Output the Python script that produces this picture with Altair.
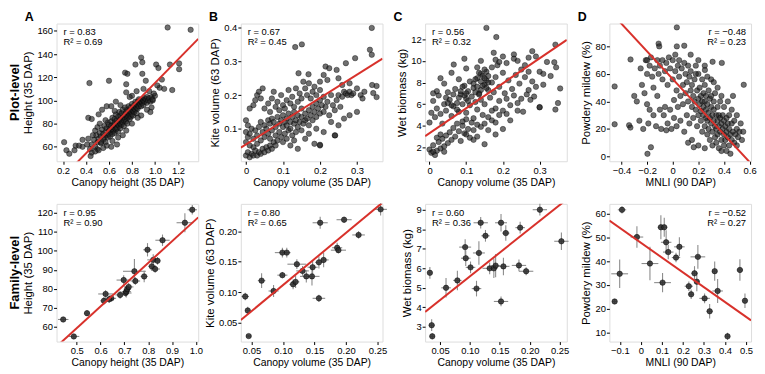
import altair as alt
import pandas as pd

FONT = "Liberation Sans"
RED = "#d8312b"
W, H = 143, 139

# ---------------- Plot-level data (x, y) ----------------
A_PLOT = [
(0.45,62),(0.47,66),(0.48,60),(0.49,70),(0.50,64),(0.50,58),(0.51,67),(0.52,72),(0.53,63),(0.53,69),
(0.54,75),(0.55,66),(0.55,71),(0.56,68),(0.56,78),(0.57,73),(0.57,64),(0.58,70),(0.58,76),(0.59,81),
(0.59,68),(0.60,74),(0.60,71),(0.60,79),(0.61,76),(0.61,69),(0.62,73),(0.62,82),(0.62,78),(0.63,75),
(0.63,71),(0.63,85),(0.64,79),(0.64,74),(0.64,77),(0.65,81),(0.65,72),(0.65,84),(0.66,78),(0.66,75),
(0.66,88),(0.67,80),(0.67,83),(0.67,76),(0.68,79),(0.68,86),(0.68,73),(0.69,82),(0.69,78),(0.69,90),
(0.70,84),(0.70,80),(0.70,87),(0.70,76),(0.71,83),(0.71,89),(0.71,79),(0.72,85),(0.72,81),(0.72,92),
(0.73,86),(0.73,83),(0.73,78),(0.74,88),(0.74,84),(0.74,94),(0.75,87),(0.75,82),(0.75,90),(0.76,85),
(0.76,92),(0.76,80),(0.77,89),(0.77,86),(0.77,95),(0.78,88),(0.78,84),(0.78,91),(0.79,90),(0.79,94),
(0.79,86),(0.80,92),(0.80,88),(0.80,97),(0.81,91),(0.81,94),(0.81,87),(0.82,93),(0.82,96),(0.82,90),
(0.83,95),(0.83,92),(0.83,99),(0.84,94),(0.84,97),(0.84,89),(0.85,96),(0.85,99),(0.85,93),(0.86,98),
(0.86,95),(0.86,101),(0.87,97),(0.87,100),(0.88,99),(0.88,95),(0.89,101),(0.89,98),(0.90,100),(0.90,96),
(0.91,102),(0.91,99),(0.92,101),(0.93,103),(0.93,98),(0.94,100),(0.95,102),(0.96,99),(0.97,103),(0.98,100),
(0.21,64),(0.23,57),(0.255,54),(0.30,57),(0.31,61),(0.34,61),(0.37,66),(0.37,60),(0.41,62),(0.435,58),
(0.44,52),(0.42,67),(0.46,70),(0.45,55),(0.48,74),(0.50,77),(0.52,80),(0.53,64),(0.42,85),(0.45,84),
(0.51,88),(0.54,92),(0.58,95),(0.62,95),(0.43,115),(0.60,117),(0.75,114),(0.74,124),(0.76,123),(0.75,107),
(0.83,131),(0.88,137),(0.89,133),(0.89,123),(0.92,117),(1.01,131),(1.03,128),(1.06,118),(1.08,110),(1.04,111),
(1.13,131),(1.21,132),(1.21,127),(1.15,109),(1.11,163),(1.31,161),(0.98,101),(1.00,104),(0.95,108),(0.97,94),
(0.93,92),(0.90,110),(0.84,108),(0.80,104),(0.78,103),(0.70,96),(0.65,91),(0.88,87),(0.85,85),(0.80,80),
(0.75,74),(0.72,70),(0.68,68),(0.63,65),(0.58,61),(0.55,59),(0.51,57),(1.02,113),(0.99,106),(0.96,90),
(0.66,99),(0.57,83),(0.67,62),(0.62,60),(0.48,56)]

B_PLOT = [
(0.00,0.02),(0.01,0.015),(0.005,0.03),(0.015,0.025),(0.02,0.02),(0.025,0.035),(0.03,0.02),(0.035,0.03),(0.04,0.025),(0.02,0.045),
(0.01,0.05),(0.045,0.04),(0.05,0.03),(0.055,0.045),(0.06,0.035),(0.065,0.05),(0.03,0.055),(0.07,0.04),(0.075,0.06),(0.08,0.05),
(0.0,0.06),(0.005,0.075),(0.01,0.085),(0.0,0.09),(0.02,0.07),(0.03,0.08),(0.015,0.1),(0.005,0.11),(0.0,0.125),(0.04,0.065),
(0.05,0.075),(0.025,0.095),(0.035,0.105),(0.045,0.09),(0.06,0.085),(0.055,0.1),(0.065,0.07),(0.07,0.095),(0.08,0.08),(0.085,0.065),
(0.09,0.09),(0.095,0.075),(0.1,0.06),(0.105,0.085),(0.11,0.07),(0.12,0.05),(0.125,0.08),(0.13,0.065),(0.14,0.04),(0.135,0.09),
(0.115,0.095),(0.04,0.12),(0.05,0.11),(0.06,0.125),(0.065,0.115),(0.07,0.13),(0.075,0.12),(0.08,0.105),(0.085,0.135),(0.09,0.115),
(0.095,0.125),(0.1,0.105),(0.1,0.14),(0.105,0.12),(0.11,0.13),(0.11,0.11),(0.115,0.145),(0.12,0.12),(0.12,0.1),(0.125,0.135),
(0.13,0.115),(0.13,0.15),(0.135,0.125),(0.14,0.14),(0.14,0.105),(0.145,0.12),(0.15,0.135),(0.15,0.16),(0.155,0.115),(0.16,0.145),
(0.16,0.125),(0.165,0.13),(0.17,0.155),(0.17,0.11),(0.175,0.14),(0.18,0.165),(0.18,0.125),(0.185,0.15),(0.19,0.175),(0.19,0.135),
(0.195,0.16),(0.2,0.145),(0.2,0.185),(0.205,0.17),(0.21,0.15),(0.21,0.195),(0.215,0.165),(0.22,0.18),(0.225,0.14),(0.23,0.2),
(0.235,0.17),(0.24,0.155),(0.245,0.185),(0.25,0.2),(0.255,0.165),(0.26,0.195),(0.265,0.21),(0.27,0.205),(0.275,0.2),(0.28,0.21),
(0.285,0.2),(0.29,0.205),(0.265,0.13),(0.28,0.14),(0.3,0.15),(0.23,0.12),(0.25,0.11),(0.21,0.09),(0.19,0.1),(0.17,0.085),
(0.16,0.07),(0.185,0.055),(0.2,0.05),(0.24,0.08),(0.15,0.095),(0.02,0.17),(0.025,0.185),(0.03,0.2),(0.035,0.21),(0.04,0.19),
(0.01,0.16),(0.05,0.16),(0.06,0.175),(0.065,0.15),(0.07,0.19),(0.08,0.165),(0.085,0.18),(0.09,0.155),(0.095,0.2),(0.1,0.17),
(0.105,0.16),(0.11,0.185),(0.115,0.215),(0.12,0.175),(0.125,0.195),(0.13,0.165),(0.135,0.22),(0.14,0.18),(0.145,0.205),(0.15,0.19),
(0.155,0.24),(0.16,0.22),(0.165,0.2),(0.17,0.235),(0.175,0.19),(0.18,0.21),(0.185,0.225),(0.19,0.2),(0.2,0.24),(0.21,0.26),
(0.22,0.245),(0.215,0.285),(0.225,0.28),(0.245,0.275),(0.27,0.295),(0.295,0.31),(0.34,0.4),(0.335,0.335),(0.34,0.32),(0.133,0.343),
(0.151,0.351),(0.142,0.265),(0.169,0.262),(0.2,0.052),(0.241,0.08),(0.341,0.23),(0.353,0.227),(0.344,0.206),(0.353,0.194),(0.31,0.2),
(0.32,0.21),(0.315,0.19),(0.3,0.22),(0.28,0.235),(0.25,0.25),(0.26,0.23),(0.2,0.215),(0.075,0.21),(0.045,0.22)]

C_PLOT = [
(0.00,1.8),(0.005,1.5),(0.01,2.2),(0.015,1.3),(0.02,1.7),(0.025,2.5),(0.03,1.9),(0.035,2.8),(0.04,2.1),(0.045,3.1),
(0.02,2.9),(0.01,1.6),(0.05,2.4),(0.055,3.4),(0.06,2.7),(0.065,3.8),(0.03,3.2),(0.04,1.6),(0.07,3.0),(0.075,4.2),
(0.08,3.5),(0.085,2.6),(0.09,4.0),(0.095,3.3),(0.1,4.6),(0.105,3.7),(0.11,2.9),(0.115,4.3),(0.12,3.6),(0.13,4.1),
(0.14,3.9),(0.15,2.3),(0.16,4.8),(0.17,4.5),(0.0,4.3),(0.005,5.2),(0.01,6.3),(0.015,4.8),(0.02,5.6),(0.025,6.8),
(0.03,5.1),(0.035,4.2),(0.04,6.0),(0.045,5.4),(0.05,7.1),(0.055,6.4),(0.06,4.9),(0.065,5.8),(0.07,7.4),(0.075,6.1),
(0.08,5.3),(0.085,6.9),(0.09,4.4),(0.095,7.7),(0.1,6.5),(0.1,5.2),(0.105,7.2),(0.11,5.9),(0.11,8.1),(0.115,6.7),
(0.12,4.7),(0.12,7.5),(0.125,6.2),(0.13,8.4),(0.13,5.5),(0.135,7.0),(0.14,6.4),(0.14,8.8),(0.145,5.0),(0.15,7.8),
(0.15,6.0),(0.155,9.0),(0.155,8.2),(0.16,7.3),(0.16,8.6),(0.165,6.6),(0.17,8.0),(0.17,9.4),(0.175,7.1),(0.18,8.5),
(0.18,5.6),(0.185,9.6),(0.19,7.6),(0.19,6.3),(0.2,8.9),(0.2,5.4),(0.205,7.0),(0.21,9.8),(0.21,6.5),(0.215,8.2),
(0.22,5.9),(0.225,7.4),(0.23,10.6),(0.23,6.8),(0.235,8.7),(0.24,6.1),(0.245,7.9),(0.25,9.2),(0.25,6.5),(0.255,5.3),
(0.26,8.5),(0.265,6.9),(0.27,10.3),(0.27,7.3),(0.275,6.4),(0.28,8.1),(0.285,6.7),(0.29,7.6),(0.3,5.7),(0.3,9.0),
(0.31,7.8),(0.12,7.9),(0.125,8.3),(0.13,7.6),(0.135,8.9),(0.14,7.3),(0.14,8.1),(0.145,8.6),(0.145,7.7),(0.15,8.4),
(0.15,9.2),(0.155,7.5),(0.16,8.0),(0.13,9.4),(0.135,6.9),(0.125,7.1),(0.08,6.6),(0.085,7.2),(0.09,6.0),(0.095,6.8),
(0.1,7.0),(0.105,6.3),(0.09,7.6),(0.075,5.5),(0.06,5.9),(0.05,6.1),(0.045,6.6),(0.065,6.9),(0.15,4.2),(0.16,3.6),
(0.18,4.3),(0.2,3.7),(0.19,5.0),(0.17,5.4),(0.22,4.5),(0.21,5.1),(0.24,5.4),(0.18,3.2),(0.13,3.0),(0.12,2.7),
(0.1,3.2),(0.155,13.05),(0.182,12.2),(0.343,11.5),(0.34,9.87),(0.345,9.4),(0.356,7.45),(0.35,6.1),(0.343,5.5),(0.3,5.73),
(0.066,9.66),(0.095,10.2),(0.175,10.75),(0.28,10.9),(0.23,10.2),(0.2,10.4),(0.19,9.9),(0.26,9.6),(0.24,10.0),(0.18,10.1),
(0.14,10.0),(0.1,9.3),(0.06,8.9),(0.08,8.3),(0.04,7.9),(0.03,8.4),(0.02,7.2),(0.01,7.0),(0.32,9.9),(0.33,8.6),
(0.31,8.8),(0.29,10.4),(0.27,9.0)]

D_PLOT = [
(0.032,93.8),(-0.453,50.9),(-0.453,23.4),(-0.329,70.5),(-0.34,22.7),(-0.33,21.0),(-0.197,1.9),(-0.17,6.7),(-0.11,82),(-0.105,80),
(0.032,80),(0.09,80.5),(0.164,6.7),(0.383,68),(0.311,68.8),(0.554,52.1),(0.251,62.8),(-0.3,44),(-0.28,40),(-0.25,64),
(-0.24,52),(-0.22,46),(-0.21,70),(-0.2,60),(-0.2,38),(-0.19,24),(-0.18,66),(-0.17,72),(-0.16,58),(-0.15,50),
(-0.15,30),(-0.14,64),(-0.13,22),(-0.12,70),(-0.12,44),(-0.11,60),(-0.1,66),(-0.1,34),(-0.09,20),(-0.08,56),
(-0.08,70),(-0.07,30),(-0.06,62),(-0.05,68),(-0.05,19),(-0.04,52),(-0.04,24),(-0.03,72),(-0.02,64),(-0.02,34),
(-0.01,20),(0.0,56),(0.0,70),(0.01,41),(0.01,28),(0.02,62),(0.02,74),(0.03,22),(0.03,48),(0.04,66),
(0.04,36),(0.05,58),(0.05,70),(0.06,44),(0.06,26),(0.07,64),(0.08,52),(0.08,38),(0.09,68),(0.09,18),
(0.1,60),(0.1,46),(0.11,30),(0.11,54),(0.12,66),(0.12,40),(0.13,24),(0.13,58),(0.14,48),(0.14,62),
(0.15,36),(0.15,52),(0.16,44),(0.16,28),(0.17,56),(0.17,40),(0.18,66),(0.18,34),(0.19,48),(0.19,22),
(0.2,42),(0.2,60),(0.2,30),(0.21,38),(0.21,50),(0.22,26),(0.22,44),(0.22,33),(0.23,56),(0.23,40),
(0.23,18),(0.24,30),(0.24,46),(0.24,36),(0.25,22),(0.25,40),(0.25,52),(0.26,28),(0.26,34),(0.26,44),
(0.27,16),(0.27,38),(0.27,26),(0.28,48),(0.28,32),(0.28,20),(0.29,42),(0.29,28),(0.29,12),(0.3,36),
(0.3,24),(0.3,44),(0.31,30),(0.31,18),(0.31,8),(0.32,40),(0.32,26),(0.32,34),(0.33,22),(0.33,14),
(0.33,46),(0.34,30),(0.34,20),(0.34,10),(0.35,26),(0.35,36),(0.35,16),(0.36,22),(0.36,6),(0.36,30),
(0.37,18),(0.37,28),(0.37,40),(0.38,24),(0.38,12),(0.38,4),(0.39,20),(0.39,30),(0.4,16),(0.4,26),
(0.4,8),(0.41,22),(0.41,12),(0.42,28),(0.42,18),(0.42,4),(0.43,24),(0.43,14),(0.44,20),(0.44,30),
(0.44,8),(0.45,16),(0.45,2),(0.46,24),(0.46,12),(0.47,18),(0.48,10),(0.48,26),(0.49,16),(0.5,20),
(0.5,8),(0.51,14),(0.52,18),(0.53,24),(0.54,12),(0.55,18),(0.12,10),(0.15,12),(0.2,8),(0.25,6),
(0.18,60),(0.27,58),(0.3,56),(0.32,54),(0.35,50),(0.38,44),(0.4,36),(0.43,40),(0.46,34),(0.5,30),
(0.47,44),(0.2,70),(0.25,66),(0.14,74),(-0.2,70),(-0.18,34),(-0.26,26),(-0.23,20),(-0.06,36)]

# ---------------- Family-level data (x, y, x error, y error) ----------------
A_FAM = [
(0.443,63.9,0.022,1.0),(0.4875,55.0,0.023,1.0),(0.543,67.2,0.012,1.5),(0.614,73.7,0.015,2.0),
(0.621,77.3,0.031,2.0),(0.645,75.0,0.020,1.5),(0.682,76.8,0.020,2.0),(0.697,84.6,0.030,2.5),
(0.705,77.8,0.025,2.0),(0.708,78.5,0.020,3.0),(0.712,79.8,0.015,2.0),(0.718,81.0,0.020,2.0),
(0.742,89.2,0.048,6.4),(0.746,84.1,0.020,2.0),(0.783,86.5,0.015,3.0),(0.797,100.5,0.018,3.5),
(0.815,91.8,0.015,2.5),(0.821,95.2,0.025,3.0),(0.829,90.4,0.020,2.0),(0.839,94.7,0.012,2.0),
(0.860,105.5,0.030,3.0),(0.954,114.7,0.035,5.0),(0.985,121.5,0.020,2.5),(0.636,74.5,0.020,2.0)]

B_FAM = [
(0.0455,0.028,0.004,0.002),(0.040,0.093,0.006,0.006),(0.044,0.070,0.004,0.006),(0.066,0.119,0.006,0.012),
(0.085,0.102,0.008,0.010),(0.099,0.165,0.012,0.008),(0.106,0.165,0.006,0.008),(0.099,0.128,0.008,0.005),
(0.116,0.113,0.006,0.008),(0.120,0.117,0.006,0.010),(0.122,0.146,0.015,0.008),(0.131,0.135,0.010,0.008),
(0.137,0.126,0.010,0.010),(0.146,0.126,0.012,0.015),(0.147,0.141,0.008,0.012),(0.157,0.149,0.006,0.010),
(0.1645,0.153,0.008,0.012),(0.159,0.214,0.012,0.010),(0.157,0.090,0.010,0.006),(0.197,0.219,0.012,0.005),
(0.186,0.173,0.008,0.008),(0.188,0.169,0.012,0.005),(0.220,0.194,0.010,0.006),(0.255,0.236,0.010,0.010)]

C_FAM = [
(0.037,2.50,0.004,0.15),(0.036,3.07,0.005,0.30),(0.033,5.76,0.004,0.30),(0.060,4.99,0.008,0.50),
(0.079,5.37,0.007,0.50),(0.092,7.08,0.010,0.40),(0.093,6.51,0.008,0.40),(0.101,6.04,0.008,0.30),
(0.111,4.95,0.008,0.40),(0.115,6.78,0.010,0.60),(0.118,8.33,0.012,0.30),(0.126,7.66,0.007,0.30),
(0.133,5.99,0.012,0.30),(0.140,5.99,0.006,0.50),(0.143,6.13,0.008,0.60),(0.152,8.33,0.010,0.45),
(0.152,4.29,0.012,0.25),(0.156,6.09,0.010,0.45),(0.160,7.80,0.006,0.40),(0.184,8.08,0.008,0.30),
(0.182,6.14,0.012,0.30),(0.194,5.84,0.012,0.20),(0.217,9.00,0.012,0.30),(0.253,7.38,0.012,0.45)]

D_FAM = [
(-0.090,61.5,0.020,1.5),(-0.125,23.1,0.012,1.0),(-0.101,34.7,0.040,6.0),(-0.019,50.1,0.030,4.5),
(0.043,39.0,0.040,7.0),(0.103,31.0,0.040,4.0),(0.095,54.2,0.015,5.0),(0.111,54.2,0.015,4.0),
(0.120,47.9,0.025,5.0),(0.130,43.8,0.025,3.0),(0.167,41.5,0.020,2.0),(0.183,46.0,0.025,4.0),
(0.228,29.5,0.020,2.0),(0.239,26.1,0.012,2.0),(0.255,34.9,0.015,3.0),(0.266,31.4,0.012,4.0),
(0.271,41.8,0.035,5.0),(0.303,24.4,0.025,2.0),(0.327,19.0,0.015,3.0),(0.351,35.8,0.012,4.0),
(0.365,27.5,0.025,5.0),(0.412,8.5,0.010,1.5),(0.471,36.3,0.015,4.5),(0.495,23.4,0.012,3.0)]

# fitted lines shown in the figure: (intercept, slope)
FIT_PLOT = {"A": (13.8, 101.3), "B": (0.0533, 0.692), "C": (3.32, 23.05), "D": (56.25, -100.6)}
FIT_FAM = {"A": (2.37, 114.0), "B": (0.026, 0.857), "C": (3.14, 24.39), "D": (47.7, -62.1)}

# ---------------- Axis settings per panel ----------------
TITLES = {
    "A": ("Canopy height (35 DAP)", "Height (35 DAP)"),
    "B": ("Canopy volume (35 DAP)", "Kite volume (63 DAP)"),
    "C": ("Canopy volume (35 DAP)", "Wet biomass (kg)"),
    "D": ("MNLI (90 DAP)", "Powdery mildew (%)"),
}
STATS_PLOT = {"A": ("r = 0.83", "0.69"), "B": ("r = 0.67", "0.45"),
              "C": ("r = 0.56", "0.32"), "D": ("r = \u22120.48", "0.23")}
STATS_FAM = {"A": ("r = 0.95", "0.90"), "B": ("r = 0.80", "0.65"),
             "C": ("r = 0.60", "0.36"), "D": ("r = \u22120.52", "0.27")}

X_PLOT = {
    "A": ([0.144, 1.376], [0.2, 0.4, 0.6, 0.8, 1.0, 1.2], ".1f"),
    "B": ([-0.014, 0.369], [0, 0.1, 0.2, 0.3], "~g"),
    "C": ([-0.012, 0.374], [0, 0.1, 0.2, 0.3], "~g"),
    "D": ([-0.494, 0.611], [-0.4, -0.2, 0, 0.2, 0.4, 0.6], "~g"),
}
Y_PLOT = {
    "A": ([47.5, 166.4], [60, 80, 100, 120, 140, 160], "d"),
    "B": ([0.003, 0.413], [0.1, 0.2, 0.3, 0.4], ".1f"),
    "C": ([0.72, 13.45], [2, 4, 6, 8, 10, 12], "d"),
    "D": ([-3.5, 96.6], [0, 20, 40, 60, 80], "d"),
}
X_FAM = {
    "A": ([0.415, 1.01], [0.5, 0.6, 0.7, 0.8, 0.9, 1.0], ".1f"),
    "B": ([0.033, 0.258], [0.05, 0.10, 0.15, 0.20, 0.25], ".2f"),
    "C": ([0.025, 0.262], [0.05, 0.10, 0.15, 0.20, 0.25], ".2f"),
    "D": ([-0.15, 0.524], [-0.1, 0, 0.1, 0.2, 0.3, 0.4, 0.5], "~g"),
}
Y_FAM = {
    "A": ([52.3, 124.6], [60, 70, 80, 90, 100, 110, 120], "d"),
    "B": ([0.019, 0.245], [0.05, 0.10, 0.15, 0.20], ".2f"),
    "C": ([2.23, 9.3], [3, 4, 5, 6, 7, 8, 9], "d"),
    "D": ([6.3, 64.0], [10, 20, 30, 40, 50, 60], "d"),
}


def make_axis(values, fmt, title, title_size):
    return alt.Axis(values=values, format=fmt, title=title, grid=False, domain=False,
                    ticks=True, tickSize=3, tickColor="black", tickWidth=1,
                    labelColor="black", labelFontSize=9.5, labelFont=FONT, labelPadding=1,
                    titleFont=FONT, titleFontSize=title_size, titleFontWeight="normal",
                    titleColor="black", titlePadding=3, labelAngle=0)


def text_layer(text, x, y, size, bold=False, align="left", angle=None, baseline="alphabetic"):
    kw = dict(fontSize=size, font=FONT, fontWeight="bold" if bold else "normal",
              align=align, baseline=baseline, color="black")
    if angle is not None:
        kw["angle"] = angle
    return alt.Chart(pd.DataFrame({"t": [text]})).mark_text(**kw).encode(
        text="t:N", x=alt.value(x), y=alt.value(y))


def panel(key, rows, xspec, yspec, stats, fit, family=False, letter=None, rowlabel=None):
    xdom, xticks, xfmt = xspec
    ydom, yticks, yfmt = yspec
    xtitle, ytitle = TITLES[key]
    if family:
        df = pd.DataFrame(rows, columns=["x", "y", "xe", "ye"])
    else:
        df = pd.DataFrame(rows, columns=["x", "y"])
    xs = alt.Scale(domain=xdom, nice=False, zero=False)
    ys = alt.Scale(domain=ydom, nice=False, zero=False)
    xa = make_axis(xticks, xfmt, xtitle, 10.5)
    ya = make_axis(yticks, yfmt, ytitle, 11.5)
    X = lambda f: alt.X(f, scale=xs, axis=xa)
    Y = lambda f: alt.Y(f, scale=ys, axis=ya)
    base = alt.Chart(df)
    layers = []
    if family:
        ebar = base.transform_calculate(
            xlo="datum.x - datum.xe", xhi="datum.x + datum.xe",
            ylo="datum.y - datum.ye", yhi="datum.y + datum.ye")
        layers.append(ebar.mark_rule(color="#8c8c8c", strokeWidth=1.1).encode(
            x=X("xlo:Q"), x2="xhi:Q", y=Y("y:Q")))
        layers.append(ebar.mark_rule(color="#8c8c8c", strokeWidth=1.1).encode(
            x=X("x:Q"), y=Y("ylo:Q"), y2="yhi:Q"))
        layers.append(base.mark_circle(size=30, fill="#2a2a2a", fillOpacity=0.85,
                                       stroke="#000000", strokeWidth=0.6, strokeOpacity=0.8).encode(
            x=X("x:Q"), y=Y("y:Q")))
    else:
        layers.append(base.mark_circle(size=30, fill="#262626", fillOpacity=0.66,
                                       stroke="#000000", strokeWidth=0.7, strokeOpacity=0.55).encode(
            x=X("x:Q"), y=Y("y:Q")))
    a, b = fit
    line_df = pd.DataFrame({"x": xdom})
    layers.append(alt.Chart(line_df).transform_calculate(
        y=f"{a} + ({b}) * datum.x").mark_line(color=RED, strokeWidth=2, clip=True).encode(
        x=X("x:Q"), y=Y("y:Q")))
    rtxt, r2 = stats
    if key == "D":
        layers.append(text_layer(rtxt, W - 5, 12, 9.5, align="right"))
        layers.append(text_layer("R\u00b2 = " + r2, W - 5, 22, 9.5, align="right"))
    else:
        layers.append(text_layer(rtxt, 7, 12, 9.5))
        layers.append(text_layer("R\u00b2 = " + r2, 7, 22, 9.5))
    if letter:
        layers.append(text_layer(letter, -32, -3, 12.5, bold=True))
    if rowlabel:
        layers.append(text_layer(rowlabel, -42, H / 2, 13, bold=True, align="center",
                                 angle=270, baseline="middle"))
    return alt.layer(*layers).properties(width=W, height=H)


panels = [
    panel("A", A_PLOT, X_PLOT["A"], Y_PLOT["A"], STATS_PLOT["A"], FIT_PLOT["A"], letter="A", rowlabel="Plot-level"),
    panel("B", B_PLOT, X_PLOT["B"], Y_PLOT["B"], STATS_PLOT["B"], FIT_PLOT["B"], letter="B"),
    panel("C", C_PLOT, X_PLOT["C"], Y_PLOT["C"], STATS_PLOT["C"], FIT_PLOT["C"], letter="C"),
    panel("D", D_PLOT, X_PLOT["D"], Y_PLOT["D"], STATS_PLOT["D"], FIT_PLOT["D"], letter="D"),
    panel("A", A_FAM, X_FAM["A"], Y_FAM["A"], STATS_FAM["A"], FIT_FAM["A"], family=True, rowlabel="Family-level"),
    panel("B", B_FAM, X_FAM["B"], Y_FAM["B"], STATS_FAM["B"], FIT_FAM["B"], family=True),
    panel("C", C_FAM, X_FAM["C"], Y_FAM["C"], STATS_FAM["C"], FIT_FAM["C"], family=True),
    panel("D", D_FAM, X_FAM["D"], Y_FAM["D"], STATS_FAM["D"], FIT_FAM["D"], family=True),
]

chart = alt.concat(*panels, columns=4, spacing={"row": 43, "column": 43}, bounds="flush",
                   padding=0).configure_view(
    stroke="black", strokeWidth=1.3
).configure(background="white", font=FONT)

chart.save("out.html", embed_options={"renderer": "svg", "actions": False})
